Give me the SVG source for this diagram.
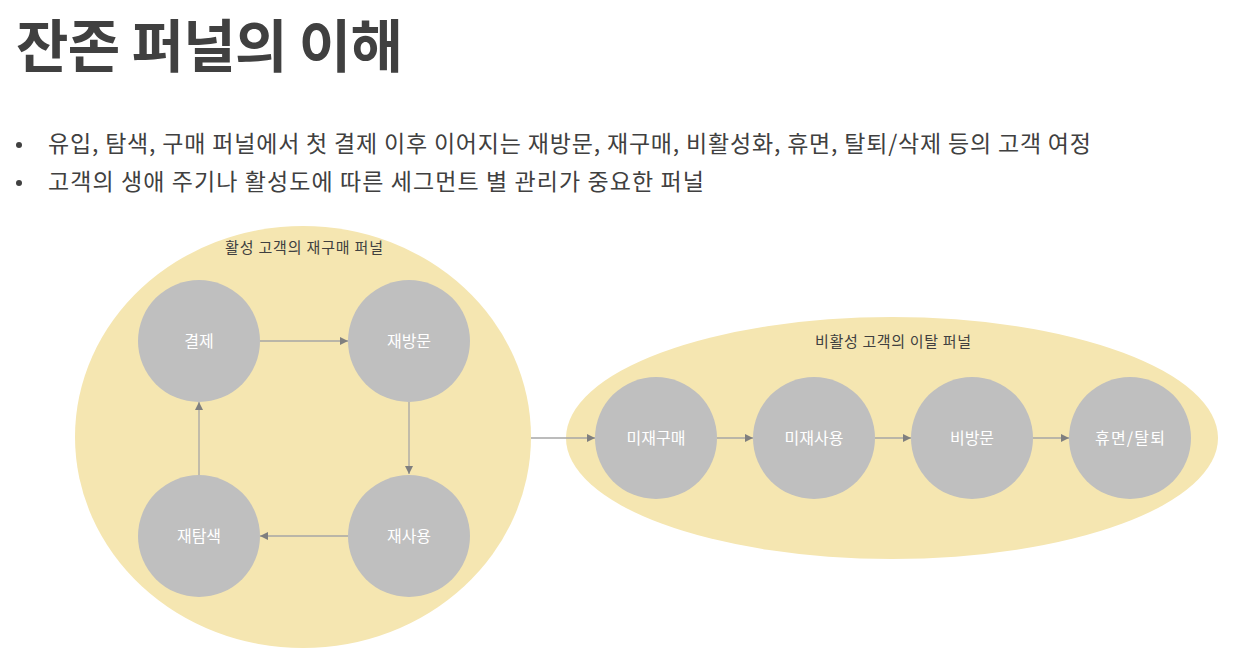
<svg xmlns="http://www.w3.org/2000/svg" width="1240" height="664" viewBox="0 0 1240 664">
<defs>
<style>
text{font-family:"Noto Sans CJK KR","Noto Sans",sans-serif;}
.title{font-size:57px;font-weight:700;fill:#404040;}
.body{font-size:23px;fill:#404040;}
.grp{font-size:15px;fill:#404040;text-anchor:middle;}
.lbl{font-size:16px;fill:#ffffff;text-anchor:middle;}
.node{fill:#BFBFBF;}
.area{fill:#F5E6B1;}
.conn line{stroke:#A6A6A6;stroke-width:1.3;marker-end:url(#ah);}
</style>
<marker id="ah" viewBox="0 0 10 10" refX="10" refY="5" markerWidth="8" markerHeight="8" markerUnits="userSpaceOnUse" orient="auto">
<path d="M0,0 L10,5 L0,10 z" fill="#7F7F7F"/>
</marker>
</defs>
<rect width="1240" height="664" fill="#ffffff"/>
<text class="title" x="16" y="67" textLength="387" lengthAdjust="spacing">잔존 퍼널의 이해</text>
<circle cx="19" cy="145" r="3" fill="#404040"/>
<circle cx="19" cy="183" r="3" fill="#404040"/>
<text class="body" x="48" y="152" textLength="1043" lengthAdjust="spacing">유입, 탐색, 구매 퍼널에서 첫 결제 이후 이어지는 재방문, 재구매, 비활성화, 휴면, 탈퇴/삭제 등의 고객 여정</text>
<text class="body" x="48" y="190" textLength="656" lengthAdjust="spacing">고객의 생애 주기나 활성도에 따른 세그먼트 별 관리가 중요한 퍼널</text>

<g id="active-funnel">
<ellipse class="area" cx="303" cy="437" rx="228" ry="211"/>
<text class="grp" x="304" y="253" textLength="158" lengthAdjust="spacing">활성 고객의 재구매 퍼널</text>
</g>
<g id="inactive-funnel">
<ellipse class="area" cx="892" cy="438" rx="326" ry="121"/>
<text class="grp" x="893" y="347" textLength="156" lengthAdjust="spacing">비활성 고객의 이탈 퍼널</text>
</g>

<g id="n-payment"><circle class="node" cx="199" cy="341" r="61"/><text class="lbl" x="199" y="347">결제</text></g>
<g id="n-revisit"><circle class="node" cx="409" cy="341" r="61"/><text class="lbl" x="409" y="347">재방문</text></g>
<g id="n-reuse"><circle class="node" cx="409" cy="536" r="61"/><text class="lbl" x="409" y="542">재사용</text></g>
<g id="n-research"><circle class="node" cx="199" cy="536" r="61"/><text class="lbl" x="199" y="542">재탐색</text></g>

<g id="n-nopurchase"><circle class="node" cx="656" cy="438" r="61"/><text class="lbl" x="656" y="444">미재구매</text></g>
<g id="n-nouse"><circle class="node" cx="814" cy="438" r="61"/><text class="lbl" x="814" y="444">미재사용</text></g>
<g id="n-novisit"><circle class="node" cx="972" cy="438" r="61"/><text class="lbl" x="972" y="444">비방문</text></g>
<g id="n-dormant"><circle class="node" cx="1130" cy="438" r="61"/><text class="lbl" x="1130" y="444" textLength="70" lengthAdjust="spacing">휴면/탈퇴</text></g>

<g id="connectors" class="conn">
<line x1="260" y1="341" x2="348" y2="341"/>
<line x1="409" y1="402" x2="409" y2="474"/>
<line x1="348" y1="536" x2="260" y2="536"/>
<line x1="199" y1="475" x2="199" y2="402"/>
<line x1="531" y1="438" x2="595" y2="438"/>
<line x1="717" y1="438" x2="753" y2="438"/>
<line x1="875" y1="438" x2="911" y2="438"/>
<line x1="1033" y1="438" x2="1069" y2="438"/>
</g>
</svg>
